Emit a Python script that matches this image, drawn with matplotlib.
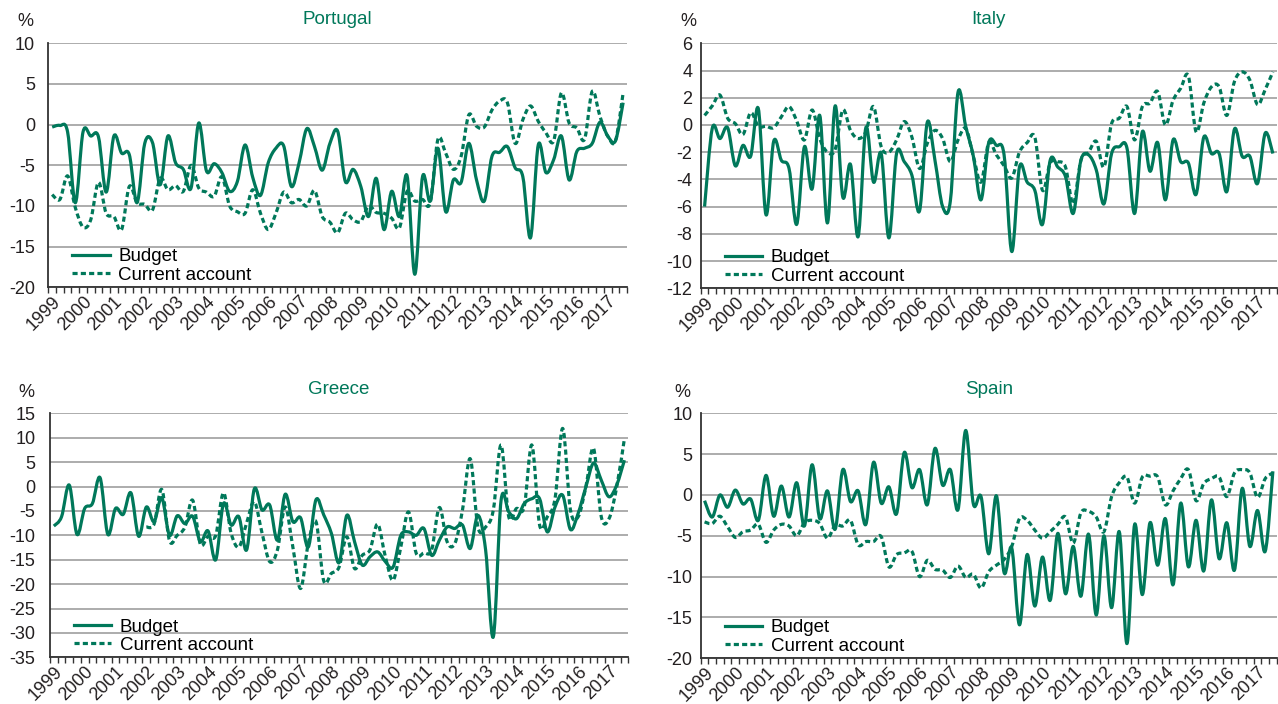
import numpy as np
import matplotlib
matplotlib.use('Agg')
import matplotlib.pyplot as plt
from matplotlib.path import Path
from matplotlib.patches import PathPatch
from matplotlib.lines import Line2D

plt.rcParams['font.family'] = ['Liberation Sans', 'DejaVu Sans']
plt.rcParams['axes.unicode_minus'] = False

GREEN = '#00785a'
TEXT = '#231f20'
DASH = (0, (1.6, 1.0))

# quarterly data, 1999Q1 .. 2017Q3, % of GDP
year_labels = [str(y) for y in range(1999, 2018)]

portugal_budget = [-0.3, -0.1, -0.9, -9.6, -0.9, -1.4, -1.5, -8.3, -1.4, -3.5,
                   -3.7, -9.6, -2.3, -2.2, -7.4, -1.4, -4.7, -5.5, -7.8, 0.2,
                   -5.7, -4.8, -5.9, -8.2, -7.0, -2.5, -6.5, -8.7, -4.7, -2.9,
                   -2.6, -7.6, -4.7, -0.5, -2.7, -5.6, -2.3, -0.8, -7.0, -5.5,
                   -7.6, -11.3, -6.6, -12.9, -8.2, -11.3, -6.3, -18.4, -6.4, -9.4,
                   -2.9, -10.7, -6.8, -7.1, -2.3, -6.8, -9.4, -3.9, -3.4, -2.7,
                   -5.3, -6.4, -13.9, -2.5, -5.9, -4.3, -1.4, -6.8, -3.3, -2.9,
                   -2.3, 0.3, -1.4, -2.0, 2.7]
portugal_current = [-8.6, -9.2, -6.3, -10.2, -12.6, -11.7, -7.1, -10.9, -11.3, -12.9,
                    -7.6, -9.6, -9.8, -10.5, -6.6, -8.0, -7.5, -8.2, -5.0, -7.8,
                    -8.3, -8.8, -6.4, -10.0, -10.7, -10.9, -8.0, -10.9, -12.9, -10.9,
                    -8.3, -9.6, -9.2, -10.0, -8.1, -11.3, -12.0, -13.3, -10.9, -11.7,
                    -11.9, -10.0, -10.8, -10.9, -11.5, -12.7, -8.2, -9.4, -9.2, -9.6,
                    -1.8, -3.5, -5.5, -3.9, 1.2, -0.2, -0.3, 1.8, 2.9, 2.7,
                    -2.3, 0.6, 2.3, 0.4, -1.0, -2.0, 3.9, 0.2, -0.4, -1.8,
                    4.1, 1.0, -1.4, -2.0, 3.9]

italy_budget = [-6.0, -0.25, -1.0, -0.2, -3.0, -1.5, -2.3, 1.2, -6.6, -1.2,
                -2.6, -3.2, -7.3, -1.6, -4.7, 0.7, -7.2, 1.4, -5.3, -2.9,
                -8.2, -0.2, -4.2, -2.1, -8.3, -2.1, -2.7, -3.7, -6.3, 0.2,
                -2.6, -6.0, -5.6, 2.4, -0.1, -2.3, -5.5, -1.3, -1.5, -2.2,
                -9.3, -3.1, -4.2, -4.8, -7.3, -2.6, -3.1, -3.8, -6.5, -2.6,
                -2.2, -3.3, -5.8, -2.1, -1.6, -1.7, -6.5, -0.5, -3.4, -1.3,
                -5.5, -1.1, -2.7, -2.8, -5.1, -0.9, -2.1, -2.1, -4.9, -0.3,
                -2.3, -2.3, -4.3, -0.6, -2.1]
italy_current = [0.7, 1.4, 2.2, 0.5, 0.1, -0.7, 0.9, -0.1, -0.1, -0.2,
                 0.6, 1.35, 0.3, -1.1, 1.1, -1.0, -2.0, -1.8, 1.1, -0.4,
                 -1.0, -0.5, 1.35, -1.6, -2.0, -1.1, 0.25, -0.9, -3.2, -1.35,
                 -0.4, -1.0, -2.7, -1.1, -0.25, -2.3, -4.2, -1.3, -2.2, -3.0,
                 -3.9, -2.0, -1.3, -0.9, -4.8, -2.8, -2.7, -3.1, -5.8, -2.6,
                 -2.0, -1.2, -3.1, 0.1, 0.5, 1.35, -1.1, 1.35, 1.6, 2.45,
                 0.0, 1.8, 2.7, 3.6, -0.5, 1.6, 2.8, 2.8, 0.7, 3.2,
                 3.9, 3.3, 1.5, 2.6, 3.9]

greece_budget = [-8.1, -6.2, 0.3, -9.8, -4.5, -3.5, 1.8, -9.8, -4.5, -5.7,
                 -1.3, -10.2, -4.2, -7.2, -2.3, -10.0, -6.0, -7.6, -6.1, -11.3,
                 -9.1, -15.0, -3.5, -7.9, -6.2, -13.0, -0.5, -4.8, -3.8, -11.0,
                 -1.6, -7.2, -6.4, -12.4, -2.7, -5.8, -9.6, -15.6, -5.9, -11.3,
                 -16.1, -14.4, -13.4, -15.4, -16.5, -10.0, -9.3, -10.0, -8.6, -14.1,
                 -11.0, -8.3, -8.6, -7.9, -12.7, -5.9, -13.0, -30.8, -2.9, -5.2,
                 -6.6, -3.5, -2.5, -2.5, -9.3, -4.2, -1.8, -8.8, -5.5, -0.1,
                 4.8, 1.3, -2.1, 0.3, 5.4]
greece_current = [np.nan] * 12 + [
                  -8.3, -7.7, -0.6, -11.1, -10.0, -8.3, -2.8, -11.8,
                  -10.2, -10.0, -1.3, -9.6, -12.4, -7.5, -3.1, -9.5, -15.4, -13.0,
                  -4.2, -12.4, -20.9, -11.7, -7.2, -19.3, -17.8, -16.5, -10.3, -16.8,
                  -14.1, -13.0, -7.7, -14.4, -19.2, -12.4, -5.2, -13.7, -13.6, -13.0,
                  -4.3, -11.3, -11.7, -4.8, 5.7, -8.3, -8.3, -4.8, 8.5, -6.2,
                  -4.5, -4.2, 8.5, -7.9, -6.2, -2.5, 11.9, -4.8, -6.2, -0.1,
                  7.8, -6.2, -6.6, -0.1, 9.8]

spain_budget = [-0.7, -2.7, 0.0, -1.5, 0.6, -1.1, -0.5, -3.1, 2.4, -2.6,
                1.1, -2.7, 1.5, -3.8, 3.7, -2.9, 0.5, -4.2, 3.1, -0.8,
                0.5, -3.6, 4.0, -1.0, 1.0, -2.3, 5.2, 0.9, 3.1, -1.2,
                5.7, 1.2, 3.1, -1.8, 7.9, -1.1, -0.2, -7.2, -0.1, -9.5,
                -6.5, -15.9, -7.3, -13.6, -7.6, -12.9, -4.7, -12.1, -6.3, -12.4,
                -4.8, -14.7, -5.0, -13.8, -4.5, -18.2, -3.6, -12.2, -3.4, -8.6,
                -2.9, -11.0, -1.0, -8.8, -3.1, -9.3, -0.6, -7.8, -3.4, -9.2,
                0.8, -6.3, -1.9, -6.9, 2.9]
spain_current = [-3.3, -3.5, -2.6, -3.9, -5.2, -4.5, -4.3, -3.6, -5.8, -4.3,
                 -3.6, -3.8, -5.0, -3.4, -3.1, -3.5, -5.3, -3.7, -3.8, -3.1,
                 -6.1, -5.7, -5.7, -5.1, -8.8, -7.3, -7.1, -6.9, -10.0, -8.0,
                 -9.1, -9.2, -10.1, -8.7, -10.1, -9.7, -11.4, -9.4, -8.6, -7.9,
                 -6.3, -2.9, -3.1, -4.3, -5.3, -4.5, -3.6, -2.7, -5.9, -2.2,
                 -2.0, -2.7, -4.5, -0.2, 1.5, 2.2, -1.0, 2.2, 2.3, 2.2,
                 -1.2, 0.5, 2.0, 3.1, -0.7, 1.4, 2.0, 2.2, -0.2, 2.7,
                 3.1, 2.7, -0.3, 2.0, 2.7]


def smooth_path(y):
    # smoothed line like the spreadsheet one: a cubic bezier through every point
    y = np.asarray(y, dtype=float)
    x = np.arange(len(y), dtype=float)
    ok = ~np.isnan(y)
    pts = np.column_stack([x[ok], y[ok]])
    n = len(pts)
    verts = [pts[0]]
    codes = [Path.MOVETO]
    for i in range(n - 1):
        p0 = pts[max(i - 1, 0)]
        p1 = pts[i]
        p2 = pts[i + 1]
        p3 = pts[min(i + 2, n - 1)]
        verts += [p1 + (p2 - p0) / 6.0, p2 - (p3 - p1) / 6.0, p2]
        codes += [Path.CURVE4] * 3
    return Path(verts, codes)


def draw_panel(rect, title, budget, current, ylim, ystep, ypad, pct_off):
    ax = fig.add_axes(rect)
    n = len(budget)
    for series, ls in ((budget, '-'), (current, DASH)):
        patch = PathPatch(smooth_path(series), fill=False, edgecolor=GREEN,
                          linewidth=2.3, linestyle=ls, joinstyle='round',
                          capstyle='butt', zorder=3)
        ax.add_patch(patch)

    ax.set_xlim(-0.5, n - 0.5)
    ax.set_ylim(*ylim)
    ax.set_yticks(np.arange(ylim[0], ylim[1] + ystep / 2, ystep))
    ax.set_xticks(np.arange(0, n, 4))
    ax.set_xticklabels(year_labels, rotation=45, ha='right', va='top',
                       rotation_mode='anchor')
    ax.set_xticks(np.arange(-0.5, n, 1), minor=True)
    ax.tick_params(axis='x', which='major', length=0, pad=4,
                   labelsize=13, labelcolor=TEXT)
    ax.tick_params(axis='x', which='minor', length=4, width=1,
                   color='#333333', direction='out')
    ax.tick_params(axis='y', length=0, pad=ypad, labelsize=13,
                   labelcolor=TEXT)

    ax.grid(axis='y', color='#a6a6a6', linewidth=1.3)
    ax.set_axisbelow(True)
    for side in ('top', 'right'):
        ax.spines[side].set_visible(False)
    for side in ('left', 'bottom'):
        ax.spines[side].set_color('#333333')
        ax.spines[side].set_linewidth(1.3)

    ax.set_title(title, color=GREEN, fontsize=13.5, pad=14)
    ax.annotate('%', xy=(0, 1), xycoords='axes fraction', xytext=pct_off,
                textcoords='offset pixels', ha='center', va='center',
                fontsize=13, color=TEXT)

    handles = [Line2D([], [], color=GREEN, linewidth=2.3),
               Line2D([], [], color=GREEN, linewidth=2.3, linestyle=DASH)]
    ax.legend(handles, ['Budget', 'Current account'], loc='lower left',
              bbox_to_anchor=(0.035, 0.0), frameon=False, fontsize=13.5,
              handlelength=2.0, handletextpad=0.45, labelspacing=0.05,
              borderpad=0.2, borderaxespad=0.0)
    return ax


fig = plt.figure(figsize=(12.78, 7.04), dpi=100)

draw_panel([0.0378, 0.5919, 0.4528, 0.3466], 'Portugal',
           portugal_budget, portugal_current, (-20, 10), 5, 9.5, (-23, 22))
draw_panel([0.5483, 0.5905, 0.4507, 0.3480], 'Italy',
           italy_budget, italy_current, (-12, 6), 2, 6, (-12, 22))
draw_panel([0.0391, 0.0663, 0.4525, 0.3466], 'Greece',
           greece_budget, greece_current, (-35, 15), 5, 10.5, (-24, 21))
draw_panel([0.5483, 0.0649, 0.4507, 0.3480], 'Spain',
           spain_budget, spain_current, (-20, 10), 5, 6, (-18, 21))

fig.savefig('out.png', dpi=100)
